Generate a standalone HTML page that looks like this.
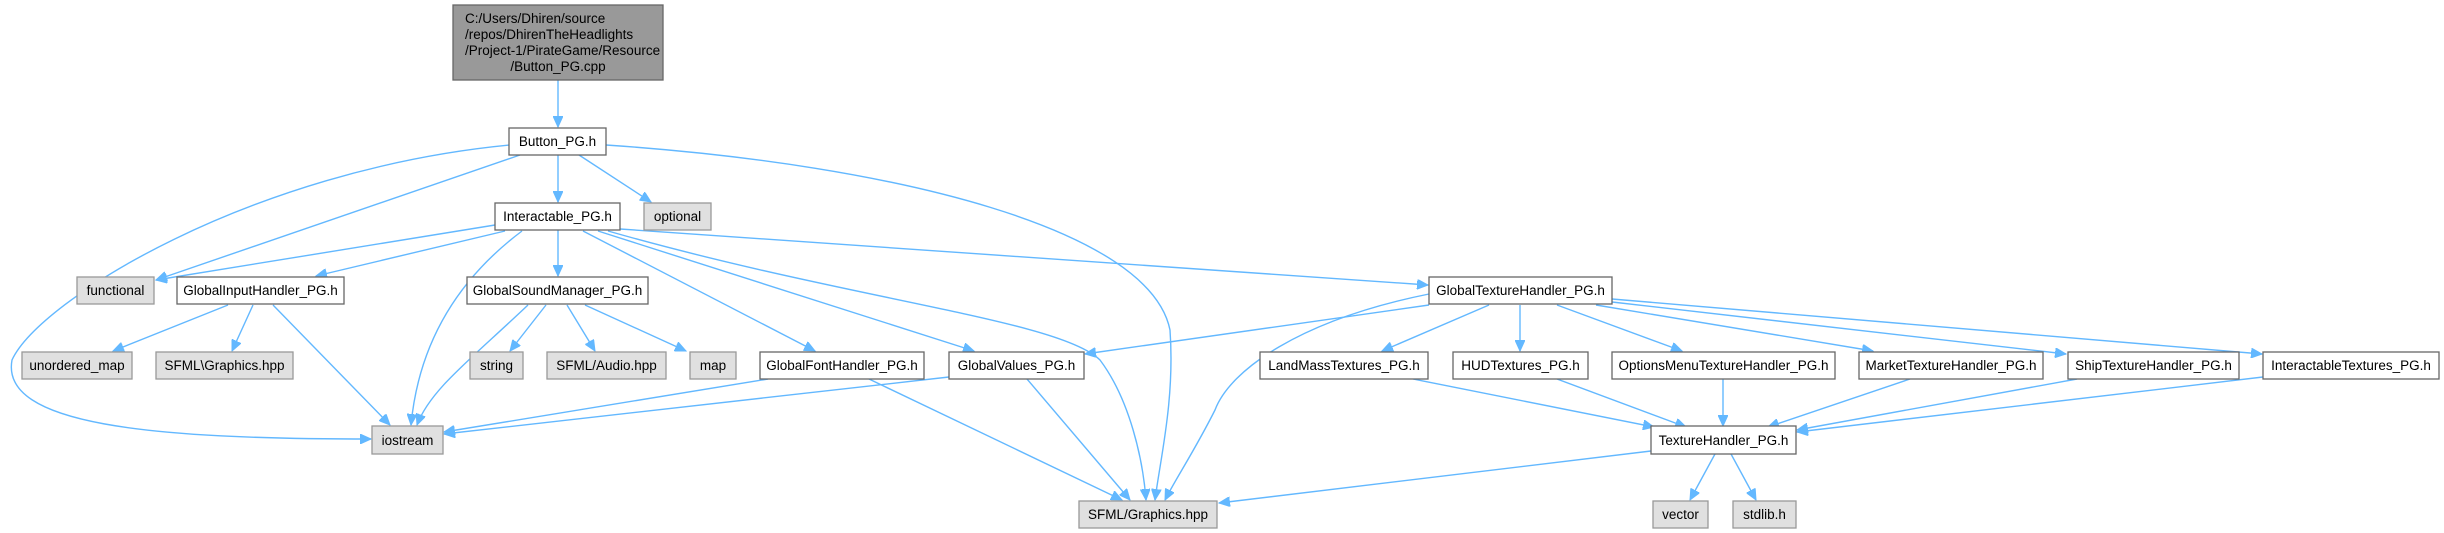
<!DOCTYPE html>
<html><head><meta charset="utf-8"><style>
html,body{margin:0;padding:0;background:#fff;}
svg{display:block;font-family:"Liberation Sans",Arial,sans-serif;font-size:13.5px;}
.n rect{fill:#fff;stroke:#666;stroke-width:1.3;}
.g rect{fill:#e0e0e0;stroke:#999;stroke-width:1.3;}
text{fill:#000;}
.e{fill:none;stroke:#63b8ff;stroke-width:1.4;marker-end:url(#a);}
</style></head><body>
<svg width="2444" height="533" viewBox="0 0 2444 533" xmlns="http://www.w3.org/2000/svg">
<defs><marker id="a" markerUnits="userSpaceOnUse" markerWidth="12" markerHeight="10" refX="11" refY="5" orient="auto"><path d="M0,0 L11,5 L0,10 Z" fill="#63b8ff" stroke="#63b8ff"/></marker></defs>
<g>
<path class="e" d="M558,80 L558,127"/>
<path class="e" d="M520,155 L156,280"/>
<path class="e" d="M510,145 C250,170 40,300 12,360 C0,425 150,439 371,439"/>
<path class="e" d="M558,155 L558,202"/>
<path class="e" d="M579,155 L651,202"/>
<path class="e" d="M606,145 C900,165 1150,230 1170,330 C1175,400 1160,460 1155,500"/>
<path class="e" d="M495,225 L156,280"/>
<path class="e" d="M505,231 L316,276"/>
<path class="e" d="M522,231 C470,270 420,330 411,425"/>
<path class="e" d="M558,230 L558,276"/>
<path class="e" d="M583,231 L815,351"/>
<path class="e" d="M598,231 L974,351"/>
<path class="e" d="M608,231 C850,300 1060,320 1100,360 C1130,400 1143,460 1146,500"/>
<path class="e" d="M620,229 L1428,285"/>
<path class="e" d="M228,305 L113,351"/>
<path class="e" d="M253,305 L232,351"/>
<path class="e" d="M273,305 L390,425"/>
<path class="e" d="M528,305 C470,360 430,390 417,425"/>
<path class="e" d="M546,305 L510,351"/>
<path class="e" d="M567,305 L595,351"/>
<path class="e" d="M585,305 L686,351"/>
<path class="e" d="M768,379 L444,432"/>
<path class="e" d="M869,379 L1122,500"/>
<path class="e" d="M949,377 L444,434"/>
<path class="e" d="M1027,379 L1130,500"/>
<path class="e" d="M1429,305 L1085,354"/>
<path class="e" d="M1429,294 C1300,320 1230,370 1215,410 C1195,450 1175,480 1165,500"/>
<path class="e" d="M1489,305 L1382,351"/>
<path class="e" d="M1520,305 L1520,351"/>
<path class="e" d="M1557,305 L1682,351"/>
<path class="e" d="M1596,305 L1873,351"/>
<path class="e" d="M1612,302 L2066,354"/>
<path class="e" d="M1612,299 L2262,354"/>
<path class="e" d="M1413,379 L1654,427"/>
<path class="e" d="M1557,379 L1686,427"/>
<path class="e" d="M1723,379 L1723,426"/>
<path class="e" d="M1910,379 L1768,427"/>
<path class="e" d="M2077,379 L1797,430"/>
<path class="e" d="M2263,377 L1797,432"/>
<path class="e" d="M1651,451 L1219,503"/>
<path class="e" d="M1715,454 L1690,500"/>
<path class="e" d="M1731,454 L1756,500"/>
</g>
<g><rect x="453" y="5" width="210" height="75" fill="#999" stroke="#666" stroke-width="1.3"/>
<text x="465" y="23">C:/Users/Dhiren/source</text>
<text x="465" y="39">/repos/DhirenTheHeadlights</text>
<text x="465" y="55">/Project-1/PirateGame/Resource</text>
<text x="558" y="71" text-anchor="middle">/Button_PG.cpp</text></g>
<g text-anchor="middle">
<g class="n"><rect x="509" y="128" width="97" height="27"/><text x="557.5" y="146">Button_PG.h</text></g>
<g class="n"><rect x="495" y="203" width="125" height="27"/><text x="557.5" y="221">Interactable_PG.h</text></g>
<g class="g"><rect x="644" y="203" width="67" height="27"/><text x="677.5" y="221">optional</text></g>
<g class="g"><rect x="77" y="277" width="77" height="27"/><text x="115.5" y="295">functional</text></g>
<g class="n"><rect x="177" y="277" width="167" height="27"/><text x="260.5" y="295">GlobalInputHandler_PG.h</text></g>
<g class="n"><rect x="467" y="277" width="181" height="27"/><text x="557.5" y="295">GlobalSoundManager_PG.h</text></g>
<g class="n"><rect x="1429" y="277" width="183" height="27"/><text x="1520.5" y="295">GlobalTextureHandler_PG.h</text></g>
<g class="g"><rect x="22" y="352" width="110" height="27"/><text x="77" y="370">unordered_map</text></g>
<g class="g"><rect x="156" y="352" width="137" height="27"/><text x="224.5" y="370">SFML\Graphics.hpp</text></g>
<g class="g"><rect x="470" y="352" width="53" height="27"/><text x="496.5" y="370">string</text></g>
<g class="g"><rect x="547" y="352" width="119" height="27"/><text x="606.5" y="370">SFML/Audio.hpp</text></g>
<g class="g"><rect x="690" y="352" width="46" height="27"/><text x="713" y="370">map</text></g>
<g class="n"><rect x="760" y="352" width="164" height="27"/><text x="842" y="370">GlobalFontHandler_PG.h</text></g>
<g class="n"><rect x="949" y="352" width="135" height="27"/><text x="1016.5" y="370">GlobalValues_PG.h</text></g>
<g class="n"><rect x="1260" y="352" width="168" height="27"/><text x="1344" y="370">LandMassTextures_PG.h</text></g>
<g class="n"><rect x="1453" y="352" width="135" height="27"/><text x="1520.5" y="370">HUDTextures_PG.h</text></g>
<g class="n"><rect x="1612" y="352" width="223" height="27"/><text x="1723.5" y="370">OptionsMenuTextureHandler_PG.h</text></g>
<g class="n"><rect x="1859" y="352" width="184" height="27"/><text x="1951" y="370">MarketTextureHandler_PG.h</text></g>
<g class="n"><rect x="2068" y="352" width="171" height="27"/><text x="2153.5" y="370">ShipTextureHandler_PG.h</text></g>
<g class="n"><rect x="2263" y="352" width="176" height="27"/><text x="2351" y="370">InteractableTextures_PG.h</text></g>
<g class="g"><rect x="372" y="426" width="71" height="28"/><text x="407.5" y="445">iostream</text></g>
<g class="n"><rect x="1651" y="426" width="145" height="28"/><text x="1723.5" y="445">TextureHandler_PG.h</text></g>
<g class="g"><rect x="1079" y="501" width="138" height="27"/><text x="1148" y="519">SFML/Graphics.hpp</text></g>
<g class="g"><rect x="1653" y="501" width="55" height="27"/><text x="1680.5" y="519">vector</text></g>
<g class="g"><rect x="1733" y="501" width="63" height="27"/><text x="1764.5" y="519">stdlib.h</text></g>
</g>
</svg>
</body></html>
